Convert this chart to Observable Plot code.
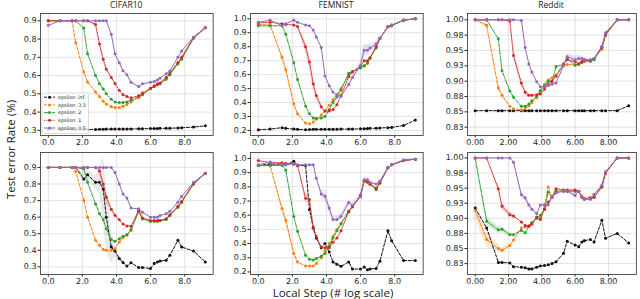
<!DOCTYPE html>
<html><head><meta charset="utf-8">
<script src="https://cdn.jsdelivr.net/npm/d3@7"></script>
<script src="https://cdn.jsdelivr.net/npm/@observablehq/plot@0.6"></script>
<style>
body{margin:0;background:#fff}
#wrap{position:relative;width:640px;height:299px;overflow:hidden;background:#fff}
.abs{position:absolute}
.title{font-family:"Open Sans",sans-serif;font-size:8.5px;color:#222;text-align:center;line-height:10px}
.axlab{font-family:"Open Sans",sans-serif;font-size:11.5px;color:#222;white-space:nowrap;line-height:11px}
</style></head>
<body><div id="wrap"></div>
<script>
// ---- data ----
const localStepLog = [0, 0.69, 1.39, 1.61, 2.08, 2.30, 2.77, 3.00, 3.22, 3.40, 3.69, 3.91, 4.16, 4.38, 4.61, 4.85, 5.30, 5.52, 5.99, 6.21, 6.40, 6.55, 6.91, 7.13, 7.60, 7.82, 8.52, 9.21];
const seriesNames = ["epsilon: inf", "epsilon: 3.3", "epsilon: 2", "epsilon: 1", "epsilon: 0.5"];
const panelTitles = ["CIFAR10", "FEMNIST", "Reddit"];
const xTicks = [0, 2, 4, 6, 8];
const yTicksCifar = [0.3, 0.4, 0.5, 0.6, 0.7, 0.8, 0.9];
const yTicksFemnist = [0.2, 0.3, 0.4, 0.5, 0.6, 0.7, 0.8, 0.9, 1.0];
const yTicksReddit = [0.825, 0.85, 0.875, 0.9, 0.925, 0.95, 0.975, 1.0];
const yLabelsReddit = ["0.83", "0.85", "0.88", "0.90", "0.93", "0.95", "0.98", "1.00"];

// CIFAR10 (top row)
const cifarA_inf = [0.305,0.305,0.305,0.305,0.306,0.305,0.305,0.306,0.306,0.307,0.307,0.307,0.307,0.307,0.308,0.308,0.309,0.309,0.310,0.310,0.310,0.311,0.311,0.312,0.313,0.314,0.318,0.325];
const cifarA_e33 = [0.9,0.9,0.9,0.78,0.62,0.565,0.51,0.485,0.46,0.445,0.43,0.425,0.425,0.432,0.442,0.455,0.48,0.495,0.528,0.54,0.55,0.558,0.585,0.61,0.67,0.695,0.805,0.862];
const cifarA_e2 = [0.9,0.9,0.9,0.9,0.86,0.72,0.60,0.555,0.527,0.50,0.47,0.455,0.452,0.453,0.456,0.465,0.485,0.495,0.53,0.54,0.55,0.555,0.58,0.605,0.665,0.69,0.805,0.862];
const cifarA_e1 = [0.9,0.9,0.9,0.9,0.9,0.9,0.88,0.773,0.69,0.635,0.59,0.556,0.52,0.495,0.485,0.478,0.49,0.505,0.53,0.545,0.555,0.56,0.59,0.615,0.67,0.70,0.81,0.862];
const cifarA_e05 = [0.875,0.9,0.9,0.9,0.9,0.9,0.9,0.9,0.9,0.9,0.827,0.72,0.67,0.627,0.605,0.563,0.54,0.555,0.563,0.567,0.576,0.585,0.61,0.625,0.70,0.735,0.81,0.864];
const cifarA_e1Spread = [0,0,0,0,0,0,0.01,0.015,0.015,0.01,0.005,0,0,0,0,0,0,0,0,0,0,0,0,0,0,0,0,0];

// FEMNIST (top row)
const femA_inf = [0.205,0.21,0.22,0.215,0.21,0.208,0.205,0.207,0.208,0.208,0.208,0.208,0.209,0.209,0.209,0.21,0.21,0.21,0.212,0.213,0.214,0.215,0.216,0.218,0.22,0.222,0.235,0.275];
const femA_e33 = [0.96,0.955,0.725,0.635,0.39,0.32,0.253,0.248,0.26,0.28,0.31,0.34,0.38,0.42,0.46,0.50,0.60,0.62,0.65,0.66,0.68,0.72,0.80,0.86,0.94,0.95,0.99,1.0];
const femA_e2 = [0.95,0.95,0.95,0.89,0.685,0.565,0.375,0.32,0.29,0.285,0.29,0.30,0.35,0.40,0.44,0.49,0.61,0.62,0.65,0.665,0.685,0.72,0.79,0.86,0.945,0.95,0.99,1.0];
const femA_e1 = [0.97,0.975,0.965,0.96,0.955,0.945,0.80,0.69,0.535,0.45,0.37,0.34,0.34,0.35,0.385,0.45,0.585,0.62,0.66,0.70,0.70,0.72,0.80,0.86,0.945,0.955,0.99,1.0];
const femA_e05 = [0.975,0.99,0.95,0.965,0.99,0.975,0.955,0.95,0.92,0.87,0.795,0.59,0.52,0.475,0.45,0.445,0.53,0.58,0.665,0.775,0.775,0.79,0.82,0.86,0.945,0.955,0.99,1.0];
const femA_e33Spread = [0,0,0.02,0.03,0.02,0.01,0,0,0,0,0,0,0,0,0,0,0,0,0,0,0,0,0,0,0,0,0,0];
const femA_e1Spread = [0,0,0,0,0,0.01,0.04,0.05,0.04,0.03,0.02,0,0,0,0,0,0,0,0,0,0,0,0,0,0,0,0,0];
const femA_e05Spread = [0,0,0,0,0,0,0,0,0,0,0,0,0,0,0,0,0,0.02,0.03,0.04,0.04,0.03,0.02,0,0,0,0,0];

// Reddit (top row)
const redA_inf = [0.852,0.852,0.852,0.852,0.852,0.852,0.852,0.852,0.852,0.852,0.852,0.852,0.852,0.852,0.852,0.852,0.852,0.852,0.852,0.852,0.852,0.852,0.852,0.852,0.852,0.852,0.852,0.86];
const redA_e33 = [1.0,0.991,0.889,0.877,0.859,0.855,0.853,0.855,0.86,0.865,0.873,0.883,0.895,0.902,0.905,0.91,0.927,0.927,0.927,0.928,0.93,0.932,0.933,0.937,0.952,0.975,1.0,1.0];
const redA_e2 = [1.0,1.0,0.969,0.917,0.884,0.874,0.859,0.859,0.863,0.868,0.876,0.885,0.893,0.90,0.90,0.924,0.927,0.937,0.926,0.928,0.931,0.933,0.933,0.935,0.955,0.975,1.0,1.0];
const redA_e1 = [1.0,1.0,1.0,1.0,0.998,0.942,0.897,0.882,0.877,0.877,0.878,0.879,0.887,0.895,0.90,0.908,0.928,0.935,0.932,0.928,0.932,0.935,0.933,0.937,0.955,0.977,1.0,1.0];
const redA_e05 = [1.0,1.0,1.0,1.0,1.0,1.0,0.999,0.955,0.928,0.915,0.899,0.891,0.891,0.893,0.895,0.897,0.925,0.94,0.935,0.937,0.937,0.935,0.935,0.937,0.957,0.979,1.0,1.0];
const redA_e33Spread = [0,0.004,0.006,0.004,0,0,0,0,0,0,0,0,0,0,0,0,0,0,0,0,0,0,0,0,0,0,0,0];
const redA_e1Spread = [0,0,0,0,0.003,0.006,0.006,0.004,0.003,0,0,0,0,0,0,0,0,0,0,0,0,0,0,0,0,0,0,0];
const redA_e05Spread = [0,0,0,0,0,0,0,0,0,0,0,0,0,0,0,0,0.004,0.006,0.006,0.005,0.004,0.003,0.002,0,0,0,0,0];

// CIFAR10 (bottom row)
const cifarB_inf = [0.9,0.9,0.9,0.9,0.83,0.855,0.81,0.81,0.77,0.60,0.42,0.395,0.35,0.326,0.305,0.325,0.296,0.296,0.29,0.32,0.33,0.335,0.34,0.37,0.46,0.42,0.395,0.33];
const cifarB_e33 = [0.9,0.9,0.9,0.875,0.70,0.60,0.46,0.43,0.405,0.40,0.40,0.41,0.45,0.475,0.49,0.52,0.635,0.59,0.575,0.575,0.575,0.58,0.585,0.61,0.66,0.69,0.80,0.865];
const cifarB_e2 = [0.9,0.9,0.9,0.9,0.89,0.81,0.68,0.62,0.585,0.53,0.465,0.455,0.47,0.485,0.495,0.525,0.635,0.59,0.575,0.575,0.575,0.58,0.585,0.61,0.66,0.69,0.80,0.865];
const cifarB_e1 = [0.9,0.9,0.9,0.9,0.9,0.9,0.9,0.878,0.80,0.72,0.648,0.612,0.585,0.558,0.547,0.545,0.642,0.595,0.58,0.58,0.58,0.58,0.59,0.615,0.665,0.695,0.805,0.865];
const cifarB_e05 = [0.9,0.9,0.9,0.9,0.9,0.9,0.9,0.9,0.9,0.9,0.9,0.87,0.80,0.74,0.715,0.655,0.65,0.63,0.60,0.60,0.60,0.61,0.62,0.635,0.69,0.725,0.81,0.865];
const cifarB_infSpread = [0,0,0,0.005,0.03,0.03,0.04,0.07,0.2,0.2,0.1,0.04,0.02,0.01,0,0,0,0,0,0,0,0,0,0,0,0,0,0];
const cifarB_e1Spread = [0,0,0,0,0,0,0,0.01,0.03,0.03,0.02,0.01,0,0,0,0,0,0,0,0,0,0,0,0,0,0,0,0];

// FEMNIST (bottom row)
const femB_inf = [0.95,0.96,0.96,0.955,0.98,0.95,0.95,0.64,0.51,0.44,0.37,0.40,0.34,0.27,0.255,0.24,0.27,0.22,0.22,0.235,0.215,0.22,0.225,0.275,0.49,0.42,0.28,0.28];
const femB_e33 = [0.95,0.95,0.647,0.565,0.33,0.27,0.242,0.242,0.242,0.26,0.30,0.35,0.40,0.45,0.50,0.54,0.62,0.66,0.73,0.84,0.83,0.82,0.785,0.83,0.935,0.955,0.985,0.995];
const femB_e2 = [0.95,0.95,0.95,0.918,0.59,0.487,0.318,0.29,0.285,0.295,0.31,0.33,0.38,0.44,0.49,0.54,0.63,0.66,0.74,0.84,0.835,0.82,0.78,0.825,0.935,0.955,0.985,0.995];
const femB_e1 = [0.985,0.97,0.97,0.965,0.96,0.95,0.72,0.71,0.515,0.45,0.375,0.37,0.37,0.41,0.44,0.49,0.625,0.66,0.74,0.845,0.835,0.82,0.79,0.83,0.935,0.955,0.985,0.995];
const femB_e05 = [0.955,0.975,0.96,0.955,0.965,0.955,0.955,0.955,0.955,0.86,0.75,0.735,0.65,0.57,0.57,0.59,0.69,0.67,0.73,0.85,0.85,0.83,0.82,0.84,0.935,0.955,0.99,0.995];
const femB_e33Spread = [0,0,0.03,0.03,0.02,0.01,0,0,0,0,0,0,0,0,0,0,0,0,0,0,0,0,0,0,0,0,0,0];
const femB_e1Spread = [0,0,0,0,0,0,0.03,0.03,0.03,0.02,0,0,0,0,0,0,0,0,0,0,0,0,0,0,0,0,0,0];
const femB_e05Spread = [0,0,0,0,0,0,0,0,0,0,0.03,0.04,0.03,0.02,0.02,0.02,0.02,0.02,0.02,0.02,0.02,0.02,0,0,0,0,0,0];

// Reddit (bottom row)
const redB_inf = [0.917,0.884,0.827,0.827,0.826,0.82,0.819,0.818,0.816,0.816,0.819,0.821,0.822,0.823,0.825,0.828,0.842,0.862,0.856,0.853,0.861,0.863,0.865,0.861,0.897,0.867,0.875,0.859];
const redB_e33 = [0.913,0.865,0.85,0.847,0.855,0.864,0.884,0.886,0.888,0.892,0.90,0.90,0.92,0.952,0.935,0.945,0.945,0.945,0.945,0.945,0.937,0.932,0.932,0.935,0.952,0.975,1.0,1.0];
const redB_e2 = [1.0,0.895,0.881,0.882,0.873,0.873,0.88,0.876,0.887,0.893,0.90,0.905,0.915,0.943,0.935,0.945,0.945,0.945,0.945,0.945,0.935,0.932,0.932,0.935,0.952,0.975,1.0,1.0];
const redB_e1 = [1.0,1.0,0.949,0.92,0.906,0.904,0.894,0.888,0.887,0.89,0.902,0.898,0.915,0.927,0.935,0.949,0.947,0.947,0.947,0.945,0.935,0.932,0.934,0.935,0.953,0.975,1.0,1.0];
const redB_e05 = [1.0,1.0,1.0,1.0,1.0,0.993,0.939,0.934,0.922,0.915,0.908,0.922,0.923,0.922,0.935,0.942,0.945,0.945,0.938,0.945,0.935,0.933,0.932,0.94,0.955,0.977,1.0,1.0];
const redB_e33Spread = [0.015,0.012,0.007,0.004,0.002,0,0,0,0,0,0,0,0,0,0,0,0,0,0,0,0,0,0,0,0,0,0,0];
const redB_e2Spread = [0,0.007,0.006,0.005,0.003,0,0,0,0,0,0,0,0,0,0,0,0,0,0,0,0,0,0,0,0,0,0,0];
const redB_e1Spread = [0,0,0.004,0.006,0.005,0.003,0,0,0,0,0,0,0,0,0,0,0,0,0,0,0.004,0.005,0.003,0,0,0,0,0];
const redB_e05Spread = [0,0,0,0,0,0,0.005,0.006,0.005,0.003,0,0,0,0,0,0,0,0,0.004,0.003,0,0,0,0,0,0,0,0];

// ---- styling ----
const colors = ["#111111", "#ff7f0e", "#2ca02c", "#d62728", "#9467bd"];
const dashes = ["3,1.6", "3,1.6", "4,1.2,1.2,1.2", "1.2,1.2", null];
const yFmtReddit = d => yLabelsReddit[yTicksReddit.findIndex(t => Math.abs(t - d) < 1e-9)];

const panels = [
  {title: 0, l: 39.8, t: 13, r: 212.5, b: 135, yDomain: [0.272, 0.94], yTicks: yTicksCifar, yFmt: d => d.toFixed(1), xFmt: d => d.toFixed(1),
   series: [cifarA_inf, cifarA_e33, cifarA_e2, cifarA_e1, cifarA_e05], legend: true,
   bands: [{s: 3, spread: cifarA_e1Spread}]},
  {title: 1, l: 249.7, t: 13, r: 422.4, b: 135, yDomain: [0.164, 1.038], yTicks: yTicksFemnist, yFmt: d => d.toFixed(1), xFmt: d => d.toFixed(1),
   series: [femA_inf, femA_e33, femA_e2, femA_e1, femA_e05],
   bands: [{s: 1, spread: femA_e33Spread}, {s: 3, spread: femA_e1Spread}, {s: 4, spread: femA_e05Spread}]},
  {title: 2, l: 466.6, t: 13, r: 635.5, b: 135, yDomain: [0.8115, 1.0103], yTicks: yTicksReddit, yFmt: yFmtReddit, xFmt: d => d.toFixed(2),
   series: [redA_inf, redA_e33, redA_e2, redA_e1, redA_e05],
   bands: [{s: 1, spread: redA_e33Spread}, {s: 3, spread: redA_e1Spread}, {s: 4, spread: redA_e05Spread}]},
  {l: 39.8, t: 152.3, r: 212.5, b: 274.3, yDomain: [0.254, 0.99], yTicks: yTicksCifar, yFmt: d => d.toFixed(1), xFmt: d => d.toFixed(1),
   series: [cifarB_inf, cifarB_e33, cifarB_e2, cifarB_e1, cifarB_e05],
   bands: [{s: 0, spread: cifarB_infSpread, fill: "#999", op: 0.22}, {s: 3, spread: cifarB_e1Spread}]},
  {l: 249.7, t: 152.3, r: 422.4, b: 274.3, yDomain: [0.182, 1.042], yTicks: yTicksFemnist, yFmt: d => d.toFixed(1), xFmt: d => d.toFixed(1),
   series: [femB_inf, femB_e33, femB_e2, femB_e1, femB_e05],
   bands: [{s: 1, spread: femB_e33Spread}, {s: 3, spread: femB_e1Spread}, {s: 4, spread: femB_e05Spread}]},
  {l: 466.6, t: 152.3, r: 635.5, b: 274.3, yDomain: [0.807, 1.009], yTicks: yTicksReddit, yFmt: yFmtReddit, xFmt: d => d.toFixed(2),
   series: [redB_inf, redB_e33, redB_e2, redB_e1, redB_e05],
   bands: [{s: 1, spread: redB_e33Spread}, {s: 2, spread: redB_e2Spread}, {s: 3, spread: redB_e1Spread}, {s: 4, spread: redB_e05Spread}]}
];

const wrap = document.getElementById("wrap");
const mL = 32, mR = 4, mT = 3, mB = 13;

for (const p of panels) {
  const fw = p.r - p.l, fh = p.b - p.t;
  const marks = [
    Plot.ruleY(p.yTicks, {stroke: "#dcdcdc", strokeWidth: 0.8}),
    Plot.ruleX(xTicks, {stroke: "#dcdcdc", strokeWidth: 0.8})
  ];
  for (const b of (p.bands || [])) {
    const arr = p.series[b.s];
    const bd = localStepLog.map((x, i) => ({x, lo: arr[i] - b.spread[i], hi: arr[i] + b.spread[i]}));
    marks.push(Plot.areaY(bd, {x: "x", y1: "lo", y2: "hi", fill: b.fill || colors[b.s], fillOpacity: b.op || 0.18, curve: "linear"}));
  }
  p.series.forEach((arr, k) => {
    const data = localStepLog.map((x, i) => ({x, y: arr[i]}));
    marks.push(Plot.line(data, {x: "x", y: "y", stroke: colors[k], strokeWidth: 1, strokeDasharray: dashes[k] || undefined}));
    marks.push(Plot.dot(data, {x: "x", y: "y", r: 1.5, fill: colors[k]}));
  });
  marks.push(Plot.frame({stroke: "#444", strokeWidth: 0.9}));
  const svg = Plot.plot({
    width: fw + mL + mR, height: fh + mT + mB,
    marginLeft: mL, marginRight: mR, marginTop: mT, marginBottom: mB,
    style: {fontSize: "8px", fontFamily: "DejaVu Sans", color: "#222", background: "transparent", overflow: "visible"},
    x: {domain: [-0.46, 9.67], ticks: xTicks, tickFormat: p.xFmt, tickSize: 2.5, tickPadding: 1, label: null},
    y: {domain: p.yDomain, ticks: p.yTicks, tickFormat: p.yFmt, tickSize: 2.5, tickPadding: 1.5, label: null},
    marks
  });
  svg.style.position = "absolute";
  svg.style.left = (p.l - mL) + "px";
  svg.style.top = (p.t - mT) + "px";
  wrap.appendChild(svg);
  if (p.title !== undefined) {
    const d = document.createElement("div");
    d.className = "abs title";
    d.style.left = p.l + "px"; d.style.width = fw + "px"; d.style.top = "0px";
    d.textContent = panelTitles[p.title];
    wrap.appendChild(d);
  }
  if (p.legend) {
    const lx = 42, ly = 92.7, lw = 46.5, lh = 40.5;
    const lg = d3.create("svg").attr("width", lw + 2).attr("height", lh + 2)
      .style("position", "absolute").style("left", (lx - 1) + "px").style("top", (ly - 1) + "px");
    lg.append("rect").attr("x", 1).attr("y", 1).attr("width", lw).attr("height", lh).attr("rx", 1.5)
      .attr("fill", "white").attr("fill-opacity", 0.85).attr("stroke", "#ccc").attr("stroke-width", 0.7);
    seriesNames.forEach((name, k) => {
      const yy = 5.2 + k * 7.7;
      lg.append("line").attr("x1", 3).attr("x2", 14).attr("y1", yy).attr("y2", yy)
        .attr("stroke", colors[k]).attr("stroke-width", 1).attr("stroke-dasharray", dashes[k]);
      lg.append("circle").attr("cx", 8.5).attr("cy", yy).attr("r", 1.5).attr("fill", colors[k]);
      lg.append("text").attr("x", 17).attr("y", yy + 1.7).attr("font-size", "4.8px")
        .attr("font-family", "DejaVu Sans").attr("fill", "#222").text(name);
    });
    wrap.appendChild(lg.node());
  }
}

// axis labels
const xl = document.createElement("div");
xl.className = "abs axlab";
xl.textContent = "Local Step (# log scale)";
xl.style.left = "0px"; xl.style.width = "666px"; xl.style.textAlign = "center"; xl.style.top = "287px";
wrap.appendChild(xl);
const yl = document.createElement("div");
yl.className = "abs axlab";
yl.textContent = "Test error Rate (%)";
yl.style.width = "200px"; yl.style.textAlign = "center";
yl.style.left = (10 - 100) + "px"; yl.style.top = (150 - 6) + "px";
yl.style.transform = "rotate(-90deg)";
wrap.appendChild(yl);
</script>
</body></html>
